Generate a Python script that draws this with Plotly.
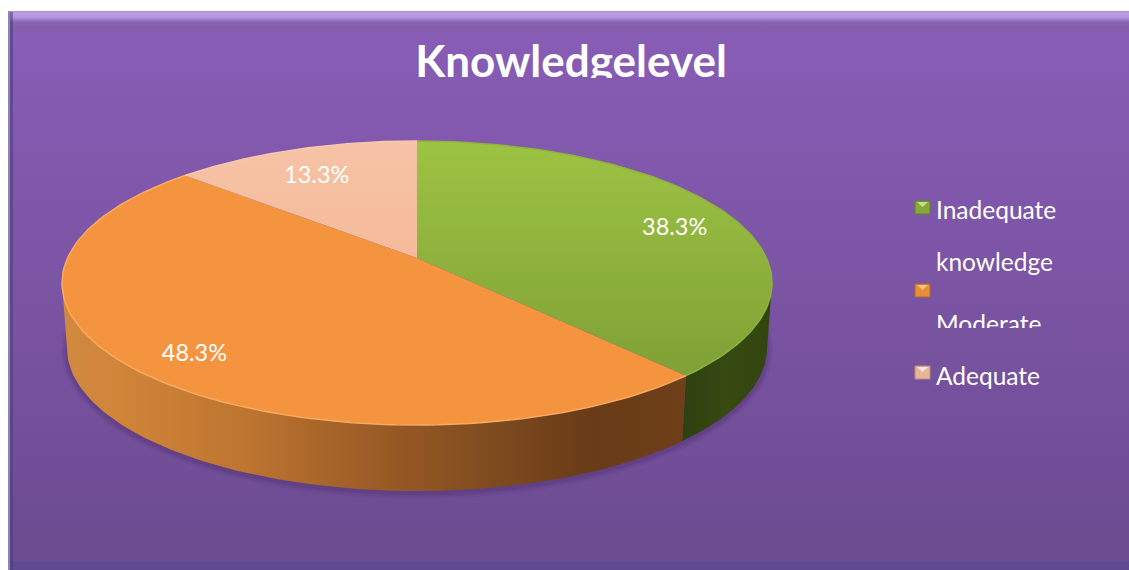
import math
import plotly.graph_objects as go

# ---- data ----
categories = ["Inadequate knowledge", "Moderate", "Adequate"]
values = [38.3, 48.3, 13.3]
value_labels = ["38.3%", "48.3%", "13.3%"]
title_text = "Knowledgelevel"

# ---- styling / geometry (pixel space) ----
W, H = 1129, 570
CX, CY, RX, RY = 417, 283, 355, 142     # top face ellipse
BX, BY, BRX, BRY = 417, 348, 350, 143   # bottom rim ellipse
E = 0.176                               # perspective shift of the pie apex
FONT = "Lato"
TOP_GRAD = {
    0: [[0, "#9DC343"], [1, "#7FA136"]],
    1: [[0, "#F4943F"], [1, "#F4943F"]],
    2: [[0, "#F6C3A6"], [1, "#F5BA9A"]],
}
EDGE = ["#8FB33C", "#FAAA62", "#F7C7AC"]


def warp(theta):
    """clockwise angle from 12 o'clock -> unit ellipse point, in perspective"""
    x, y = math.sin(theta), math.cos(theta)
    d = 1 + E * y
    return x * math.sqrt(1 - E * E) / d, (y + E) / d


def arc(theta0, theta1, n=120):
    return [warp(theta0 + (theta1 - theta0) * i / n) for i in range(n + 1)]


def param(theta):
    x, y = warp(theta)
    return math.atan2(x, y) % (2 * math.pi)


fig = go.Figure()


def poly(xs, ys, color=None, grad=None, name=None):
    fig.add_trace(go.Scatter(
        x=xs, y=ys, mode="lines", fill="toself",
        fillcolor=color if grad is None else None,
        fillgradient=grad,
        line=dict(width=0, color="rgba(0,0,0,0)"),
        hoverinfo="skip", showlegend=False, name=name,
    ))


def rect(x0, y0, x1, y1, color=None, grad=None):
    poly([x0, x1, x1, x0, x0], [y0, y0, y1, y1, y0], color, grad)


# panel
rect(9, 12, W, H, grad=dict(type="vertical", colorscale=[[0, "#6C4B90"], [1, "#895DB7"]]))
rect(9, 11, W, 33, grad=dict(type="vertical", colorscale=[
    [0, "#875CB4"], [0.3, "#8560A8"], [0.5, "#8C64B4"], [0.72, "#B596E2"], [0.93, "#BB9DE8"], [1, "#A595B8"]]))
rect(9, 561, W, H, color="#60498F")
rect(8, 11, 10, H, color="#8E84AC")
rect(10, 12, 13, H, color="rgba(70,60,130,0.55)")

# soft shadow below the disc
for grow, alpha in [(6, 0.05), (4, 0.07), (2, 0.10)]:
    ts = [2 * math.pi * i / 180 for i in range(181)]
    poly([BX + (BRX + grow) * math.sin(t) for t in ts],
         [BY + 2 - (BRY + grow) * math.cos(t) for t in ts],
         color=f"rgba(45,20,75,{alpha})")

# side walls, derived from the values
total = sum(values)
cum = [0]
for v in values:
    cum.append(cum[-1] + v)
angles = [2 * math.pi * c / total for c in cum]
seam = param(angles[1])


def wall(t0, t1, grad):
    n = 100
    ts = [t0 + (t1 - t0) * i / n for i in range(n + 1)]
    xs = [CX + RX * math.sin(t) for t in ts] + [BX + BRX * math.sin(t) for t in reversed(ts)]
    ys = [CY - RY * math.cos(t) for t in ts] + [BY - BRY * math.cos(t) for t in reversed(ts)]
    poly(xs + xs[:1], ys + ys[:1], grad=grad)


wall(math.pi / 2, seam, dict(type="horizontal", colorscale=[[0, "#2E4010"], [0.5, "#364A12"], [1, "#33450F"]]))
wall(seam, 3 * math.pi / 2, dict(type="horizontal", colorscale=[
    [0, "#D08A40"], [0.1, "#D08438"], [0.3, "#BC7430"], [0.5, "#9C5C26"],
    [0.7, "#7C4A1F"], [0.85, "#693B16"], [1, "#6E3F18"]]))

# top face wedges
for i in range(len(values)):
    pts = arc(angles[i], angles[i + 1])
    xs = [CX] + [CX + RX * p[0] for p in pts] + [CX]
    ys = [CY - RY * E] + [CY - RY * p[1] for p in pts] + [CY - RY * E]
    poly(xs, ys, grad=dict(type="vertical", colorscale=list(reversed(
        [[1 - s, c] for s, c in TOP_GRAD[i]]))), name=categories[i])
    fig.add_trace(go.Scatter(
        x=[CX + RX * p[0] for p in pts], y=[CY - RY * p[1] for p in pts],
        mode="lines", line=dict(color=EDGE[i], width=1.5),
        hoverinfo="skip", showlegend=False))

# value labels
K = 0.82
NUDGE = [(6, 9), (9, 6), (0, 8)]
lx, ly = [], []
for i in range(len(values)):
    mx, my = warp((angles[i] + angles[i + 1]) / 2)
    lx.append(CX + K * RX * mx + NUDGE[i][0])
    ly.append(CY - RY * E + K * RY * (E - my) + NUDGE[i][1])
fig.add_trace(go.Scatter(
    x=lx, y=ly, mode="text", text=value_labels, textposition="middle center",
    textfont=dict(family=FONT, size=23.5, color="white"),
    hoverinfo="skip", showlegend=False))

# title (clipped by the mask shape below)
fig.add_trace(go.Scatter(
    x=[571], y=[66], mode="text", text=[title_text], textposition="middle center",
    textfont=dict(family=FONT, size=44, color="white", weight="bold"),
    hoverinfo="skip", showlegend=False))

# legend text
legend_lines = [("Inadequate", 213), ("knowledge", 265), ("Moderate", 327), ("Adequate", 379)]
fig.add_trace(go.Scatter(
    x=[936] * len(legend_lines), y=[p[1] for p in legend_lines],
    mode="text", text=[p[0] for p in legend_lines], textposition="middle right",
    textfont=dict(family=FONT, size=24.5, color="white"),
    hoverinfo="skip", showlegend=False))

shapes = [
    dict(type="rect", xref="x", yref="y", x0=405, x1=740, y0=78, y1=92,
         fillcolor="#855BB2", line_width=0, layer="above"),
    dict(type="rect", xref="x", yref="y", x0=930, x1=1070, y0=328, y1=343,
         fillcolor="#7853A0", line_width=0, layer="above"),
]
for (y0, c, light, dark) in [(201, "#86A83A", "#C5E07A", "#64802A"),
                             (284, "#E88E38", "#FBC27F", "#AE6A2A"),
                             (366, "#E6B698", "#FBE6D8", "#B98E78")]:
    shapes.append(dict(type="rect", xref="x", yref="y", x0=915, x1=930, y0=y0, y1=y0 + 13,
                       fillcolor=c, line=dict(color=dark, width=1), layer="above"))
    shapes.append(dict(type="path", xref="x", yref="y",
                       path=f"M 917 {y0+1} L 928 {y0+1} L 922.5 {y0+6} Z",
                       fillcolor=light, line_width=0, layer="above"))

fig.update_layout(
    width=W, height=H, margin=dict(l=0, r=0, t=0, b=0), autosize=False,
    paper_bgcolor="white", plot_bgcolor="white", showlegend=False, shapes=shapes,
    xaxis=dict(range=[0, W], visible=False, fixedrange=True),
    yaxis=dict(range=[H, 0], visible=False, fixedrange=True),
)
fig.write_html("out.html", config={"displayModeBar": False},
               post_script="document.body.style.margin='0';document.body.style.overflow='hidden';")
